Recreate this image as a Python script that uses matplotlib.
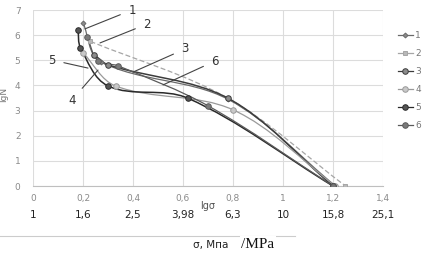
import matplotlib
matplotlib.use("Agg")
import matplotlib.pyplot as plt
import numpy as np
from matplotlib.path import Path
from matplotlib.patches import PathPatch
from matplotlib.lines import Line2D

# data: lg(sigma) vs lg(N) for six series
names = ["1", "2", "3", "4", "5", "6"]
lg_sigma = [
    [0.20, 0.27, 0.78, 1.21],
    [0.23, 0.78, 1.25],
    [0.245, 0.30, 0.78, 1.20],
    [0.20, 0.33, 0.80, 1.21],
    [0.18, 0.19, 0.30, 0.62, 1.20],
    [0.217, 0.26, 0.34, 0.70, 1.20],
]
lg_n = [
    [6.50, 4.95, 3.45, 0.0],
    [5.75, 3.49, 0.0],
    [5.22, 4.82, 3.49, 0.0],
    [5.30, 3.98, 3.03, 0.0],
    [6.20, 5.50, 3.98, 3.49, 0.0],
    [5.92, 4.98, 4.78, 3.19, 0.0],
]
xticks = [0, 0.2, 0.4, 0.6, 0.8, 1.0, 1.2, 1.4]
xtick_labels = ["0", "0,2", "0,4", "0,6", "0,8", "1", "1,2", "1,4"]
sigma_labels = ["1", "1,6", "2,5", "3,98", "6,3", "10", "15,8", "25,1"]

# label text position, leader end (data coords)
label_pos = [(0.396, 7.0), (0.456, 6.44), (0.608, 5.45), (0.156, 3.42), (0.076, 5.01), (0.728, 4.97)]
label_end = [(0.208, 6.25), (0.268, 5.69), (0.40, 4.53), (0.26, 4.61), (0.22, 4.69), (0.52, 4.02)]

styles = [
    dict(marker="D", ms=2.5, color="#6a6a6a", mfc="#8a8a8a", lw=0.9, ls="-"),
    dict(marker="s", ms=3.5, color="#a6a6a6", mfc="#b8b8b8", lw=0.9, ls=(0, (4, 2))),
    dict(marker="o", ms=4, color="#3c3c3c", mfc="#8c8c8c", lw=1.1, ls="-"),
    dict(marker="o", ms=4, color="#9a9a9a", mfc="#c8c8c8", lw=0.9, ls="-"),
    dict(marker="o", ms=4, color="#2a2a2a", mfc="#555555", lw=1.1, ls="-"),
    dict(marker="o", ms=4, color="#5a5a5a", mfc="#7a7a7a", lw=0.9, ls="-"),
]

SX, SY = 250.0, 25.1  # px per data unit, used only to shape the smoothing


def smooth_path(xs, ys):
    # smoothed line through the points, tangent length limited by neighbouring segments
    p = np.column_stack([np.array(xs) * SX, np.array(ys) * SY])
    n = len(p)
    tang = []
    for i in range(n):
        a = p[i - 1] if i > 0 else p[i]
        b = p[i + 1] if i + 1 < n else p[i]
        d = b - a
        tang.append(d / (np.hypot(*d) + 1e-9))
    verts = [p[0]]
    codes = [Path.MOVETO]
    for i in range(n - 1):
        L = np.hypot(*(p[i + 1] - p[i])) / 3.0
        verts += [p[i] + tang[i] * L, p[i + 1] - tang[i + 1] * L, p[i + 1]]
        codes += [Path.CURVE4] * 3
    verts = np.array(verts) / [SX, SY]
    return Path(verts, codes)


fig = plt.figure(figsize=(4.39, 2.54), dpi=100)
ax = fig.add_axes([33 / 439, 1 - 186 / 254, 350 / 439, 176 / 254])

for i in range(len(names)):
    st = styles[i]
    ax.add_patch(PathPatch(smooth_path(lg_sigma[i], lg_n[i]), fill=False,
                           edgecolor=st["color"], lw=st["lw"], linestyle=st["ls"], zorder=3))
    ax.plot(lg_sigma[i], lg_n[i], ls="none", marker=st["marker"], ms=st["ms"],
            mfc=st["mfc"], mec=st["color"], mew=0.7, zorder=4)

for i in range(len(names)):
    ax.annotate(names[i], xy=label_end[i], xytext=label_pos[i], fontsize=8.5, color="#333333",
                ha="center", va="center",
                arrowprops=dict(arrowstyle="-", color="#444444", lw=0.8, shrinkA=4, shrinkB=0),
                zorder=5)

ax.set_xlim(0, 1.4)
ax.set_ylim(0, 7)
ax.set_xticks(xticks)
ax.set_xticklabels(xtick_labels)
ax.set_yticks(range(0, 8))
ax.grid(True, color="#dcdcdc", lw=0.8)
ax.set_axisbelow(True)
for s in ["top", "right", "left"]:
    ax.spines[s].set_visible(False)
ax.spines["bottom"].set_color("#bfbfbf")
ax.tick_params(axis="x", length=0, labelsize=6.5, labelcolor="#8a8a8a", pad=6)
ax.tick_params(axis="y", length=0, labelsize=6.5, labelcolor="#8a8a8a", pad=9)
ax.set_ylabel("lgN", fontsize=6.5, color="#777777")
ax.yaxis.set_label_coords(-0.071, 0.52)

# second scale row: sigma values
for x, t in zip(xticks, sigma_labels):
    ax.text(x, -0.165, t, transform=ax.get_xaxis_transform(), ha="center", va="center",
            fontsize=7.5, color="#222222")
ax.text(0.70, -0.115, "lgσ", transform=ax.get_xaxis_transform(),
        ha="center", va="center", fontsize=7, color="#555555")

fig.add_artist(Line2D([0, 295 / 439], [1 - 236 / 254] * 2, color="#cccccc", lw=0.8))
fig.text(211 / 439, 1 - 245 / 254, "σ, Мпа", ha="center", va="center", fontsize=7.5, color="#222222")
fig.text(258 / 439, 1 - 244 / 254, "/MPa", ha="center", va="center", fontsize=11,
         family="Liberation Serif", color="#111111",
         bbox=dict(facecolor="white", edgecolor="none", pad=1))

handles = [Line2D([], [], color=st["color"], lw=0.9, marker=st["marker"], ms=st["ms"],
                  mfc=st["mfc"], mec=st["color"], mew=0.7) for st in styles]
fig.legend(handles, names, loc="upper left", bbox_to_anchor=(390 / 439, 1 - 23 / 254),
           frameon=False, fontsize=6.5, handlelength=1.6, labelspacing=1.0,
           handletextpad=0.3, labelcolor="#777777")

fig.savefig("out.png", dpi=100)
